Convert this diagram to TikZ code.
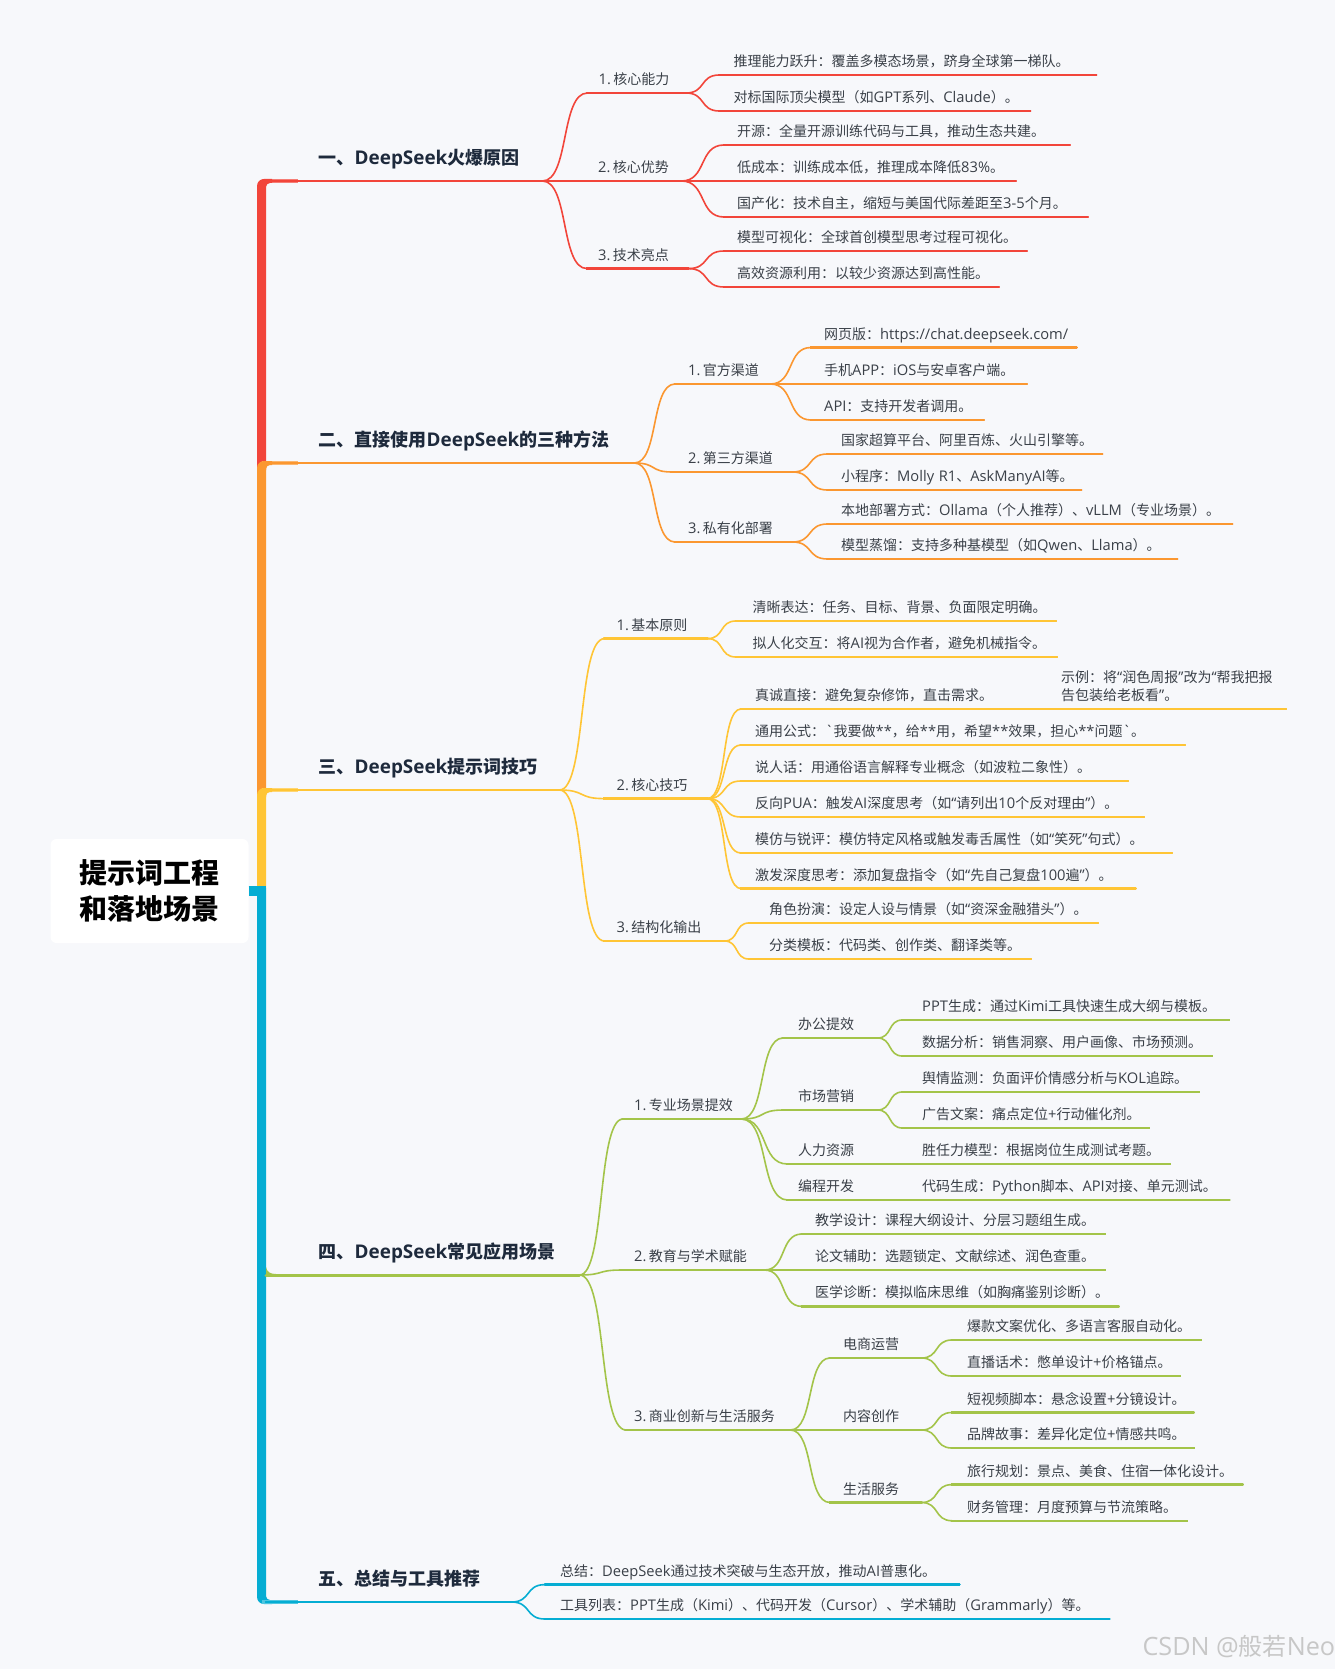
\documentclass[tikz,border=0pt]{standalone}
\usepackage{fontspec}
\newfontfamily\zhfont{Noto Sans CJK SC}
\newfontfamily\enfont[Scale=1.05]{Open Sans}
\newcommand{\en}[1]{{\enfont #1}}
\usetikzlibrary{calc}
\definecolor{cbg}{HTML}{F7F8FB}
\definecolor{ctext}{HTML}{3A4048}
\definecolor{chead}{HTML}{1E2A3C}
\definecolor{cred}{HTML}{F2453A}
\definecolor{corange}{HTML}{FB9730}
\definecolor{cyellow}{HTML}{FFC535}
\definecolor{cgreen}{HTML}{A3C449}
\definecolor{cblue}{HTML}{05ADD3}
\tikzset{
  leaf/.style 2 args={anchor=south west,inner xsep=0pt,inner ysep=5.3pt,text width=#1pt,align=left,
    text height=10pt,text depth=3pt,text=ctext,font=\zhfont\fontsize{14}{18}\selectfont,
    execute at begin node={\hspace*{#2pt}}},
  heading/.style 2 args={leaf={#1}{#2},inner ysep=12pt,text depth=4pt,text height=13pt,text=chead,
    font=\zhfont\bfseries\fontsize{18}{22}\selectfont},
  sidenote/.style={leaf={#1}{0},inner ysep=7pt,text height=,text depth=},
  rootbox/.style={fill=white,rounded corners=6pt,minimum width=198pt,minimum height=104pt,align=center,
    text=black,font=\zhfont\bfseries\fontsize{28}{36.5}\selectfont},
  link/.style={draw=#1,line width=1.6pt},
  under/.style={draw=#1,line width=2.3pt},
}
% one coloured piece of the thick stem: colour, top y, bottom y
\newcommand{\trunkpart}[3]{%
  \fill[#1!70!white] (262,#2-2) rectangle (298,#2+2);
  \fill[#1] (257,#3) [rounded corners=7pt] -- (257,#2-2) [sharp corners] -- (272,#2-2) -- (272,#2+2)
    [rounded corners=4pt] -- (266,#2+2) [sharp corners] -- (266,#3) -- cycle;
}
% curve from the end of one underline to the start of another: colour, parent, child
\newcommand{\branchlink}[3]{%
  \draw[link=#1] (#2.south east) .. controls ($(#2.south east)!.6!(#3.south west |- #2.south east)$)
    and ($(#3.south west)!.6!(#2.south east |- #3.south west)$) .. (#3.south west);
}
\begin{document}
\begin{tikzpicture}[line cap=round,line join=round,x=1pt,y=-1pt]
  \useasboundingbox (0,0) rectangle (1335,1669);
  \fill[cbg] (0,0) rectangle (1335,1669);
  % stem
  \node[rootbox] (root) at (149.5,891) {提示词工程\\和落地场景};
  \coordinate (hub) at (266,891);
  \trunkpart{cred}{181}{470}
  \trunkpart{corange}{463}{797}
  \trunkpart{cyellow}{790}{888}
  \fill[cblue] (257,888) -- (266,888) -- (266,1596) [rounded corners=4pt] -- (266,1600) [sharp corners] -- (272,1600)
    -- (272,1604) [rounded corners=7pt] -- (257,1604) [sharp corners] -- cycle;
  \fill[cblue!70!white] (262,1600) rectangle (298,1604);
  \draw[cblue,line width=10pt,line cap=butt] (root.east) -- (hub);
  \fill[cgreen] (266,1267) .. controls (267,1272) and (270,1274) .. (276,1274) -- (276,1276.5) -- (266,1276.5) -- cycle;

  % first branch
  \node[heading={276}{52.5}] (m1) at (266,181) {一、\en{DeepSeek}火爆原因};
  \node[leaf={98}{11}] (a1) at (587.5,93) {\en{1.}\,核心能力};
  \node[leaf={139}{56}] (a2) at (542,181) {\en{2.}\,核心优势};
  \node[leaf={101}{11}] (a3) at (587,268.6) {\en{3.}\,技术亮点};
  \node[leaf={376}{14}] (a11) at (719.5,75) {推理能力跃升：覆盖多模态场景，跻身全球第一梯队。};
  \node[leaf={310}{14}] (a12) at (719.5,111) {对标国际顶尖模型（如\en{GPT}系列、\en{Claude}）。};
  \node[leaf={345}{13}] (a21) at (724,145) {开源：全量开源训练代码与工具，推动生态共建。};
  \node[leaf={334}{56}] (a22) at (681,181) {低成本：训练成本低，推理成本降低\en{83\%}。};
  \node[leaf={363}{13}] (a23) at (724,217) {国产化：技术自主，缩短与美国代际差距至\en{3-5}个月。};
  \node[leaf={302}{13}] (a31) at (724,251) {模型可视化：全球首创模型思考过程可视化。};
  \node[leaf={274}{13}] (a32) at (724,287) {高效资源利用：以较少资源达到高性能。};
  \foreach \p/\c in {m1/a1,m1/a3,a1/a11,a1/a12,a2/a21,a2/a23,a3/a31,a3/a32}
    \branchlink{cred}{\p}{\c}
  \foreach \c in {m1,a1,a2,a3,a11,a12,a21,a22,a23,a31,a32}
    \draw[under=cred] (\c.south west) -- (\c.south east);

  % second branch
  \node[heading={368}{52.5}] (m2) at (266,463) {二、直接使用\en{DeepSeek}的三种方法};
  \node[leaf={95}{13}] (b1) at (675,384) {\en{1.}\,官方渠道};
  \node[leaf={120}{16}] (b2) at (672,472) {\en{2.}\,第三方渠道};
  \node[leaf={117}{13}] (b3) at (675,542) {\en{3.}\,私有化部署};
  \node[leaf={265}{13}] (b11) at (811,347.5) {网页版：\en{https://chat.deepseek.com/}};
  \node[leaf={256}{54}] (b12) at (770,384) {手机\en{APP}：\en{iOS}与安卓客户端。};
  \node[leaf={172}{13}] (b13) at (811,420) {\en{API}：支持开发者调用。};
  \node[leaf={274}{13.4}] (b21) at (827.6,454) {国家超算平台、阿里百炼、火山引擎等。};
  \node[leaf={253}{13.4}] (b22) at (827.6,490) {小程序：\en{Molly R1}、\en{AskManyAI}等。};
  \node[leaf={404}{13.4}] (b31) at (827.6,524) {本地部署方式：\en{Ollama}（个人推荐）、\en{vLLM}（专业场景）。};
  \node[leaf={349}{13.4}] (b32) at (827.6,559) {模型蒸馏：支持多种基模型（如\en{Qwen}、\en{Llama}）。};
  \foreach \p/\c in {m2/b1,m2/b2,m2/b3,b1/b11,b1/b13,b2/b21,b2/b22,b3/b31,b3/b32}
    \branchlink{corange}{\p}{\c}
  \foreach \c in {m2,b1,b2,b3,b11,b12,b13,b21,b22,b31,b32}
    \draw[under=corange] (\c.south west) -- (\c.south east);

  % third branch
  \node[heading={293}{52.5}] (m3) at (266,790) {三、\en{DeepSeek}提示词技巧};
  \node[leaf={102.5}{12}] (c1) at (604.5,638.6) {\en{1.}\,基本原则};
  \node[leaf={103}{12.5}] (c2) at (604,798.6) {\en{2.}\,核心技巧};
  \node[leaf={119.5}{12}] (c3) at (604.5,941) {\en{3.}\,结构化输出};
  \node[leaf={319}{16.5}] (c11) at (736,621) {清晰表达：任务、目标、背景、负面限定明确。};
  \node[leaf={320}{16.5}] (c12) at (736,657) {拟人化交互：将\en{AI}视为合作者，避免机械指令。};
  \node[leaf={320}{14}] (c21) at (741,709) {真诚直接：避免复杂修饰，直击需求。};
  \node[sidenote={224}] (c211) at (1061,709) {示例：将\en{“}润色周报\en{”}改为\en{“}帮我把报\\告包装给老板看\en{”}。};
  \node[leaf={443}{14}] (c22) at (741,745) {通用公式：\en{`}我要做\en{**}，给\en{**}用，希望\en{**}效果，担心\en{**}问题\en{`}。};
  \node[leaf={386}{14}] (c23) at (741,781) {说人话：用通俗语言解释专业概念（如波粒二象性）。};
  \node[leaf={402}{14}] (c24) at (741,817) {反向\en{PUA}：触发\en{AI}深度思考（如\en{“}请列出\en{10}个反对理由\en{”}）。};
  \node[leaf={430}{14}] (c25) at (741,853) {模仿与锐评：模仿特定风格或触发毒舌属性（如\en{“}笑死\en{”}句式）。};
  \node[leaf={394}{14}] (c26) at (741,888.6) {激发深度思考：添加复盘指令（如\en{“}先自己复盘\en{100}遍\en{”}）。};
  \node[leaf={348}{20}] (c31) at (749,923) {角色扮演：设定人设与情景（如\en{“}资深金融猎头\en{”}）。};
  \node[leaf={281}{20}] (c32) at (749,959) {分类模板：代码类、创作类、翻译类等。};
  \foreach \p/\c in {m3/c1,m3/c2,m3/c3,c1/c11,c1/c12,c2/c21,c2/c22,c2/c23,c2/c24,c2/c25,c2/c26,c3/c31,c3/c32}
    \branchlink{cyellow}{\p}{\c}
  \foreach \c in {m3,c1,c2,c3,c11,c12,c21,c211,c22,c23,c24,c25,c26,c31,c32}
    \draw[under=cyellow] (\c.south west) -- (\c.south east);

  % fourth branch
  \node[heading={313}{52.5}] (m4) at (266,1275) {四、\en{DeepSeek}常见应用场景};
  \node[leaf={118}{11}] (d1) at (623,1119) {\en{1.}\,专业场景提效};
  \node[leaf={142.5}{12.5}] (d2) at (621.5,1270) {\en{2.}\,教育与学术赋能};
  \node[leaf={164}{8}] (d3) at (626,1430) {\en{3.}\,商业创新与生活服务};
  \node[leaf={94}{15}] (d11) at (783,1038) {办公提效};
  \node[leaf={94}{15}] (d12) at (783,1110) {市场营销};
  \node[leaf={117.5}{10.5}] (d13) at (787.5,1164) {人力资源};
  \node[leaf={117.5}{10.5}] (d14) at (787.5,1200) {编程开发};
  \node[leaf={325.5}{19.5}] (d111) at (902.5,1020) {\en{PPT}生成：通过\en{Kimi}工具快速生成大纲与模板。};
  \node[leaf={308.5}{19.5}] (d112) at (902.5,1056) {数据分析：销售洞察、用户画像、市场预测。};
  \node[leaf={295.5}{19.5}] (d121) at (902.5,1092) {舆情监测：负面评价情感分析与\en{KOL}追踪。};
  \node[leaf={245.5}{19.5}] (d122) at (902.5,1128) {广告文案：痛点定位\en{+}行动催化剂。};
  \node[leaf={264}{17}] (d131) at (905,1164) {胜任力模型：根据岗位生成测试考题。};
  \node[leaf={323.6}{17}] (d141) at (905,1200) {代码生成：\en{Python}脚本、\en{API}对接、单元测试。};
  \node[leaf={302}{13}] (d21) at (802,1234) {教学设计：课程大纲设计、分层习题组生成。};
  \node[leaf={340}{51}] (d22) at (764,1270) {论文辅助：选题锁定、文献综述、润色查重。};
  \node[leaf={316}{13}] (d23) at (802,1306.4) {医学诊断：模拟临床思维（如胸痛鉴别诊断）。};
  \node[leaf={91}{13}] (d31) at (830,1358) {电商运营};
  \node[leaf={131}{53}] (d32) at (790,1430) {内容创作};
  \node[leaf={91}{13}] (d33) at (830,1502.5) {生活服务};
  \node[leaf={248}{15}] (d311) at (952,1340) {爆款文案优化、多语言客服自动化。};
  \node[leaf={227}{15}] (d312) at (952,1376) {直播话术：憋单设计\en{+}价格锚点。};
  \node[leaf={241}{15}] (d321) at (952,1412.5) {短视频脚本：悬念设置\en{+}分镜设计。};
  \node[leaf={241}{15}] (d322) at (952,1448) {品牌故事：差异化定位\en{+}情感共鸣。};
  \node[leaf={290}{15}] (d331) at (952,1484.6) {旅行规划：景点、美食、住宿一体化设计。};
  \node[leaf={234}{15}] (d332) at (952,1520.7) {财务管理：月度预算与节流策略。};
  \foreach \p/\c in {m4/d1,m4/d2,m4/d3,d1/d11,d1/d12,d1/d13,d1/d14,d11/d111,d11/d112,d12/d121,d12/d122,d2/d21,d2/d23,d3/d31,d3/d33,d31/d311,d31/d312,d32/d321,d32/d322,d33/d331,d33/d332}
    \branchlink{cgreen}{\p}{\c}
  \foreach \c in {d1,d2,d3,d11,d12,d13,d14,d111,d112,d121,d122,d131,d141,d21,d22,d23,d31,d32,d33,d311,d312,d321,d322,d331,d332}
    \draw[under=cgreen] (\c.south west) -- (\c.south east);
  \draw[under=cgreen,line width=3pt] (m4.south west) -- (m4.south east);

  % fifth branch
  \node[heading={245}{52.5}] (m5) at (266,1602) {五、总结与工具推荐};
  \node[leaf={414}{15}] (e1) at (545,1584.6) {总结：\en{DeepSeek}通过技术突破与生态开放，推动\en{AI}普惠化。};
  \node[leaf={564}{15}] (e2) at (545,1619) {工具列表：\en{PPT}生成（\en{Kimi}）、代码开发（\en{Cursor}）、学术辅助（\en{Grammarly}）等。};
  \foreach \c in {e1,e2}
    \branchlink{cblue}{m5}{\c}
  \foreach \c in {m5,e1,e2}
    \draw[under=cblue] (\c.south west) -- (\c.south east);

  \node[anchor=west,text=black!22,font=\enfont\fontsize{24}{28}\selectfont] (mark) at (1139,1647) {CSDN @{\zhfont 般若}Neo};
\end{tikzpicture}
\end{document}
